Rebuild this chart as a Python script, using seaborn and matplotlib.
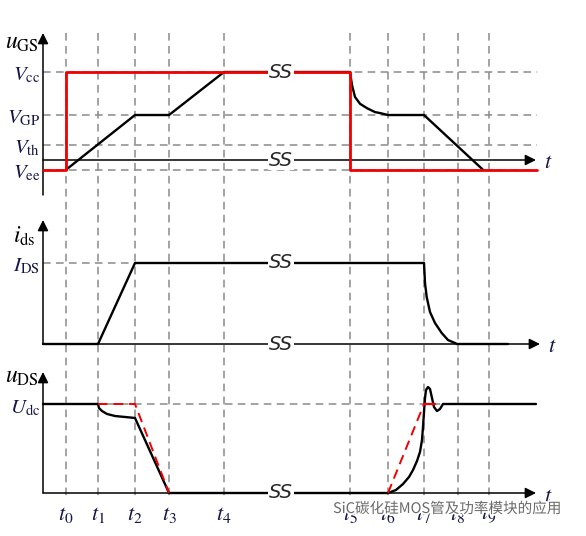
import numpy as np
import matplotlib
matplotlib.use('Agg')
import matplotlib.pyplot as plt
import matplotlib.patheffects as pe
import seaborn as sns

# switching instants t0..t9 (time units, y-axis at 0)
t_marks = [23, 55, 92, 126, 181, 307, 345, 381, 415, 446]
t_labels = [r'$t_{%d}$' % i for i in range(10)]

# gate levels (V)
Vcc, VGP, Vth, Vee = 18, 9.2, 3.1, -2

# gate driver output (red)
t_drv = [0, 23, 23, 307, 307, 494]
v_drv = [Vee, Vee, Vcc, Vcc, Vee, Vee]

# gate-source voltage uGS
t_gs = [23, 92, 126, 181, 307, 309, 312, 317, 324, 332, 337, 345, 381, 440]
v_gs = [Vee, VGP, VGP, Vcc, Vcc, 15.3, 12.9, 11.5, 10.6, 9.8, 9.6, VGP, VGP, Vee]

# drain current ids (normalised to I_DS)
t_id = [0, 55, 92, 381, 381.5, 382, 383.7, 387, 392, 398.7, 405, 412, 414, 465]
v_id = [0, 0, 1, 1, 0.88, 0.753, 0.58, 0.395, 0.259, 0.136, 0.049, 0.012, 0, 0]

# drain-source voltage uDS (normalised to Udc)
t_ds = [0, 55, 56, 59, 64, 72, 82, 92, 126, 345, 353, 360, 366, 370, 374, 377,
        379, 380, 381, 382, 383, 385, 387, 389, 391, 394, 397, 400, 493]
v_ds = [1, 1, 0.955, 0.921, 0.888, 0.865, 0.854, 0.843, 0, 0, 0.034, 0.101, 0.18,
        0.258, 0.36, 0.461, 0.596, 0.742, 0.91, 1.067, 1.157, 1.191, 1.169, 1.067,
        0.966, 0.921, 0.944, 1, 1]

# idealised uDS (red dashed)
t_ds_on = [55, 92, 126]
v_ds_on = [1, 1, 0]
t_ds_off = [345, 381]
v_ds_off = [0, 1]

sns.set_style('white')
plt.rcParams['mathtext.fontset'] = 'stix'
plt.rcParams['font.family'] = ['Liberation Serif', 'DejaVu Sans']

fig = plt.figure(figsize=(5.86, 5.36), dpi=100)
ax = fig.add_axes([0, 0, 1, 1])
ax.set_xlim(-43, 543)
ax.set_ylim(536, 0)
ax.axis('off')

# panel mapping: (zero row, rows per unit)
panels = {'gs': (160, 88 / 18), 'id': (344, 81), 'ds': (493, 89)}


def py(v, p):
    base, k = panels[p]
    return base - np.asarray(v, dtype=float) * k


grid_kw = dict(color='#8a8a8a', lw=1.1, ls=(0, (5, 3.5)), zorder=1)
navy = '#15154a'

# vertical dashed time marks
ax.vlines(t_marks, 33, 500, **grid_kw)

# horizontal reference levels
ax.hlines(py([Vcc, VGP, Vth, Vee], 'gs'), 0, 494, **grid_kw)
ax.hlines(py(1, 'id'), 0, 92, **grid_kw)
ax.hlines(py(1, 'ds'), 0, 493, **grid_kw)

# axes with arrows
arr = dict(arrowstyle='-|>', mutation_scale=16, lw=1.1, color='k', shrinkA=0, shrinkB=0)
for p, y0, ytip in [('gs', 195, 33), ('id', py(0, 'id'), 220), ('ds', py(0, 'ds'), 372)]:
    ax.annotate('', xy=(0, ytip), xytext=(0, y0), arrowprops=arr, zorder=2)
for p, xend in [('gs', 493), ('id', 497), ('ds', 493)]:
    y = float(py(0, p))
    ax.annotate('', xy=(xend, y), xytext=(0, y), arrowprops=arr, zorder=2)
    ax.text(xend + 8, y + 4, r'$t$', fontsize=16, color=navy, va='center', ha='left')

# waveforms
blk = dict(color='black', lw=1.7, estimator=None, sort=False, legend=False, zorder=3)
sns.lineplot(x=t_gs, y=py(v_gs, 'gs'), ax=ax, **blk)
sns.lineplot(x=t_id, y=py(v_id, 'id'), ax=ax, **blk)
sns.lineplot(x=t_ds, y=py(v_ds, 'ds'), ax=ax, **blk)
sns.lineplot(x=t_drv, y=py(v_drv, 'gs'), ax=ax, color='#f00000', lw=2.0,
             estimator=None, sort=False, legend=False, zorder=4)
red_dash = dict(color='#f00000', lw=1.4, estimator=None, sort=False, legend=False, zorder=4)
sns.lineplot(x=t_ds_on, y=py(v_ds_on, 'ds'), ax=ax, **red_dash)
sns.lineplot(x=t_ds_off, y=py(v_ds_off, 'ds'), ax=ax, **red_dash)
ax.lines[-2].set_linestyle((0, (5, 3)))
ax.lines[-1].set_linestyle((0, (5, 3)))
sns.lineplot(x=[381, 392], y=py([1, 1], 'ds'), ax=ax, color='#f00000', lw=1.6,
             estimator=None, legend=False, zorder=4)

# break marks
for y in [py(Vcc, 'gs'), py(0, 'gs'), py(1, 'id'), py(0, 'id'), py(0, 'ds')]:
    ax.text(238, float(y), 'SS', fontsize=14, family='DejaVu Sans', style='italic',
            fontweight='ultralight', ha='center', va='center', zorder=5,
            bbox=dict(boxstyle='square,pad=0.05', fc='white', ec='none'))

# level labels
lab = dict(fontsize=15, color=navy, ha='right', va='center')
ax.text(-3, py(Vcc, 'gs') + 3, r'$V_{\mathrm{cc}}$', **lab)
ax.text(-3, py(VGP, 'gs') + 3, r'$V_{\mathrm{GP}}$', **lab)
ax.text(-3, py(Vth, 'gs') + 4, r'$V_{\mathrm{th}}$', **lab)
ax.text(-3, py(Vee, 'gs') + 4, r'$V_{\mathrm{ee}}$', **lab)
ax.text(-3, py(1, 'id') + 3, r'$I_{\mathrm{DS}}$', **lab)
ax.text(-3, py(1, 'ds') + 4, r'$U_{\mathrm{dc}}$', **lab)
ax.text(-38, 44, r'$u_{\mathrm{GS}}$', fontsize=17, color='black', ha='left', va='center')
ax.text(-30, 236, r'$i_{\mathrm{ds}}$', fontsize=17, color='black', ha='left', va='center')
ax.text(-38, 377, r'$u_{\mathrm{DS}}$', fontsize=17, color='black', ha='left', va='center')

for t, s in zip(t_marks, t_labels):
    ax.text(t, 515, s, fontsize=16, color=navy, ha='center', va='center')

# watermark
ax.text(290, 509, 'SiC碳化硅MOS管及功率模块的应用', fontsize=10.5,
        family=['Noto Sans CJK SC', 'DejaVu Sans'], color='#6a6a6a',
        ha='left', va='center', zorder=6,
        path_effects=[pe.withStroke(linewidth=2.5, foreground='white')])

fig.savefig('out.png', dpi=100)
